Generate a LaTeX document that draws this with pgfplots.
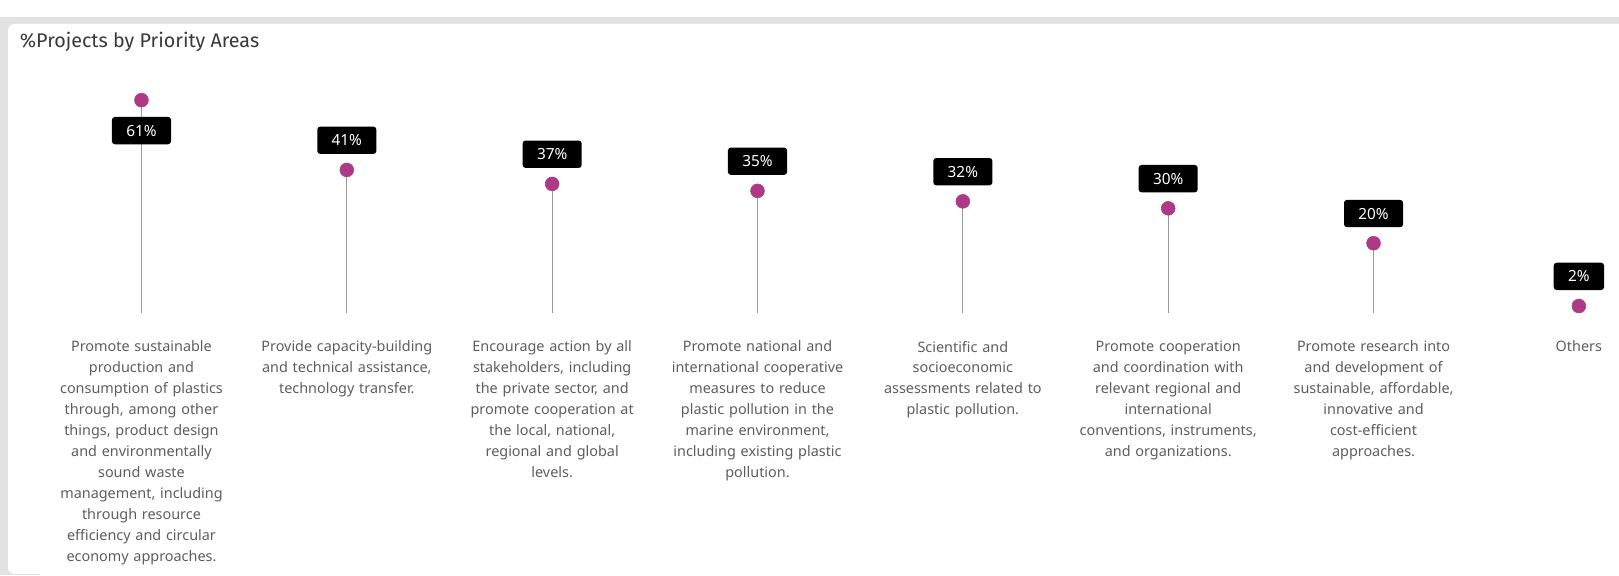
\documentclass[border=0pt]{standalone}
\usepackage{pgfplots}
\pgfplotsset{compat=1.18}
\usepackage{fontspec}
\setmainfont{Noto Sans}
\newfontfamily\titlefont{Fira Sans}
\definecolor{mag}{HTML}{AE3A87}
\definecolor{stemc}{HTML}{999999}
\definecolor{lbl}{HTML}{605E5C}
\definecolor{ttl}{HTML}{3A3A3A}
\definecolor{bgc}{HTML}{E2E2E2}
\begin{document}
\begin{tikzpicture}
\path[use as bounding box] (0,0) rectangle (1214.25pt,431.25pt);
\clip (0,0) rectangle (1214.25pt,431.25pt);
\fill[white] (0,0) rectangle (1214.25pt,431.25pt);
\fill[bgc] (0,0) rectangle (1214.25pt,418.5pt);
\fill[white, rounded corners=5pt] (6pt,0.8pt) rectangle (1240pt,413.25pt);
\fill[white] (30pt,0pt) rectangle (1214.25pt,10pt);
\node[anchor=base west, text=ttl, font=\titlefont\fontsize{14.8}{17}\selectfont, inner sep=0pt] at (14.7pt,395.6pt) {\%Projects by Priority Areas};
\begin{axis}[
  at={(29.1pt,196.5pt)}, anchor=south west,
  scale only axis, width=1185.1pt, height=183.2pt,
  xmin=-0.5, xmax=7.195, ymin=0, ymax=70,
  axis line style={draw=none}, major tick length=0pt,
  ytick=\empty,
  xtick={0,...,7},
  xticklabels={
    {Promote sustainable\\production and\\consumption of plastics\\through, among other\\things, product design\\and environmentally\\sound waste\\management, including\\through resource\\efficiency and circular\\economy approaches.},
    {Provide capacity-building\\and technical assistance,\\technology transfer.},
    {Encourage action by all\\stakeholders, including\\the private sector, and\\promote cooperation at\\the local, national,\\regional and global\\levels.},
    {Promote national and\\international cooperative\\measures to reduce\\plastic pollution in the\\marine environment,\\including existing plastic\\pollution.},
    {Scientific and\\socioeconomic\\assessments related to\\plastic pollution.},
    {Promote cooperation\\and coordination with\\relevant regional and\\international\\conventions, instruments,\\and organizations.},
    {Promote research into\\and development of\\sustainable, affordable,\\innovative and\\cost-efficient\\approaches.},
    {Others}},
  xticklabel style={text width=150pt, align=center, text=lbl, anchor=north, yshift=-17.5pt,
    font=\fontsize{10.8}{15.7}\selectfont},
  clip=false,
]
\addplot[ycomb, stemc, line width=0.9pt, mark=none] coordinates {
  (0,61) (1,41) (2,37) (3,35) (4,32) (5,30) (6,20) (7,2)};
\addplot[draw=none, mark=none, point meta=explicit symbolic,
  nodes near coords,
  every node near coord/.append style={fill=black, text=white, rounded corners=2.2pt,
    minimum height=20.5pt, inner ysep=0pt, inner xsep=10.8pt, yshift=11.8pt,
    font=\fontsize{11.5}{13}\selectfont}] coordinates {
  (1,41) [41\%] (2,37) [37\%] (3,35) [35\%] (4,32) [32\%] (5,30) [30\%] (6,20) [20\%] (7,2) [2\%]};
\addplot[draw=none, mark=none, point meta=explicit symbolic,
  nodes near coords,
  every node near coord/.append style={fill=black, text=white, rounded corners=2.2pt,
    minimum height=20.5pt, inner ysep=0pt, inner xsep=10.8pt, yshift=-33.3pt,
    font=\fontsize{11.5}{13}\selectfont}] coordinates {
  (0,61) [61\%]};
\addplot[only marks, mark=*, mark size=5.2pt, mag, mark options={draw=mag, fill=mag}] coordinates {
  (0,61) (1,41) (2,37) (3,35) (4,32) (5,30) (6,20) (7,2)};
\end{axis}
\end{tikzpicture}
\end{document}
